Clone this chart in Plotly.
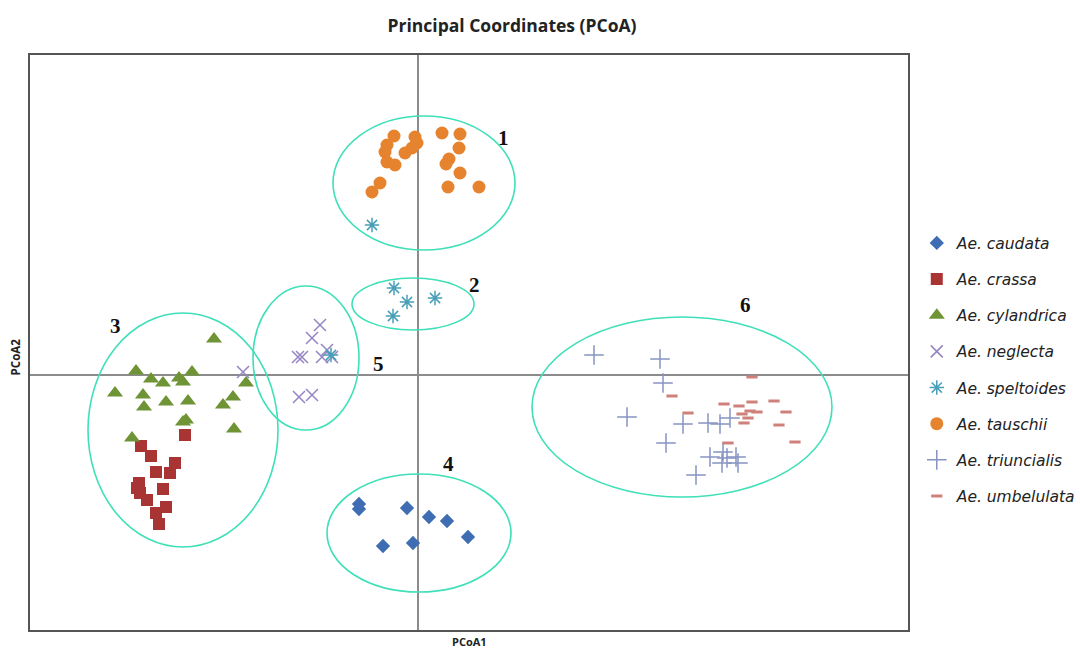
import plotly.graph_objects as go

# ---- data (PCoA1, PCoA2) ----
caudata_x = [-0.59, -0.59, -0.11, 0.11, 0.29, 0.50, -0.35, -0.05]
caudata_y = [-1.29, -1.34, -1.33, -1.42, -1.46, -1.62, -1.71, -1.68]

crassa_x = [-2.33, -2.77, -2.67, -2.62, -2.43, -2.48, -2.79, -2.78, -2.55, -2.71, -2.62, -2.52, -2.59, -2.81]
crassa_y = [-0.60, -0.71, -0.81, -0.97, -0.88, -0.98, -1.08, -1.18, -1.14, -1.25, -1.38, -1.32, -1.49, -1.13]

cylandrica_x = [-2.04, -2.82, -2.67, -2.55, -2.39, -2.35, -2.26, -1.72, -3.03, -2.75, -2.74, -2.52, -2.30, -1.85, -1.95, -2.35, -2.32, -1.84, -2.86]
cylandrica_y = [0.36, 0.04, -0.04, -0.08, -0.03, -0.07, 0.03, -0.08, -0.18, -0.20, -0.32, -0.27, -0.26, -0.22, -0.30, -0.47, -0.45, -0.54, -0.63]

neglecta_x = [-0.98, -1.06, -1.20, -1.16, -0.96, -0.91, -0.86, -1.19, -1.06, -1.75]
neglecta_y = [0.50, 0.37, 0.18, 0.18, 0.18, 0.25, 0.18, -0.22, -0.20, 0.03]

speltoides_x = [-0.46, -0.24, -0.11, -0.25, 0.17, -0.87]
speltoides_y = [1.50, 0.87, 0.73, 0.59, 0.77, 0.20]

tauschii_x = [-0.24, -0.03, -0.31, -0.33, -0.01, -0.06, -0.13, -0.31, -0.23, -0.38, -0.46, 0.24, 0.42, 0.41, 0.31, 0.28, 0.42, 0.30, 0.61]
tauschii_y = [2.39, 2.38, 2.30, 2.23, 2.32, 2.27, 2.22, 2.13, 2.10, 1.92, 1.83, 2.42, 2.41, 2.27, 2.16, 2.11, 2.02, 1.88, 1.88]

triuncialis_x = [1.76, 2.42, 2.45, 2.09, 2.65, 2.90, 3.02, 3.12, 2.48, 3.05, 2.92, 3.09, 3.18, 3.04, 3.20, 2.78]
triuncialis_y = [0.20, 0.16, -0.08, -0.42, -0.49, -0.48, -0.49, -0.43, -0.68, -0.77, -0.82, -0.83, -0.82, -0.88, -0.88, -1.00]

umbelulata_x = [3.34, 2.54, 2.70, 3.06, 3.21, 3.34, 3.56, 3.68, 3.24, 3.32, 3.39, 3.30, 3.26, 3.61, 3.10, 3.77]
umbelulata_y = [-0.02, -0.21, -0.38, -0.29, -0.31, -0.27, -0.26, -0.37, -0.39, -0.36, -0.37, -0.43, -0.48, -0.50, -0.68, -0.67]

# cluster ellipses: label, centre x, centre y, half-width, half-height, label x, label y
cluster_labels = ["1", "2", "3", "4", "5", "6"]
cluster_cx = [0.06, -0.05, -2.35, 0.01, -1.12, 2.64]
cluster_cy = [1.92, 0.71, -0.55, -1.58, 0.17, -0.32]
cluster_rx = [0.91, 0.61, 0.95, 0.92, 0.53, 1.50]
cluster_ry = [0.67, 0.26, 1.17, 0.59, 0.72, 0.90]
label_x = [0.85, 0.56, -3.03, 0.30, -0.40, 3.27]
label_y = [2.37, 0.90, 0.49, -0.89, 0.11, 0.70]

x_range = [-3.88, 4.90]
y_range = [-2.55, 3.20]

fig = go.Figure()

series = [
    ("Ae. caudata", caudata_x, caudata_y, dict(symbol="diamond", size=11, color="#3F6DB3")),
    ("Ae. crassa", crassa_x, crassa_y, dict(symbol="square", size=12, color="#A83434")),
    ("Ae. cylandrica", cylandrica_x, cylandrica_y, dict(symbol="triangle-up", size=14, color="#6F9436")),
    ("Ae. neglecta", neglecta_x, neglecta_y, dict(symbol="x-thin-open", size=12, color="#9585C4", line=dict(width=1.5, color="#9585C4"))),
    ("Ae. speltoides", speltoides_x, speltoides_y, dict(symbol="asterisk-open", size=12, color="#4A9FB8", line=dict(width=1.5, color="#4A9FB8"))),
    ("Ae. tauschii", tauschii_x, tauschii_y, dict(symbol="circle", size=13, color="#E6832F")),
    ("Ae. triuncialis", triuncialis_x, triuncialis_y, dict(symbol="cross-thin-open", size=14, color="#8794C2", line=dict(width=1.5, color="#8794C2"))),
    ("Ae. umbelulata", umbelulata_x, umbelulata_y, dict(symbol="line-ew-open", size=8, color="#D0807A", line=dict(width=3, color="#D0807A"))),
]
for i, (name, xs, ys, mk) in enumerate(series):
    fig.add_trace(go.Scatter(x=xs, y=ys, mode="markers", name=name, marker=mk,
                             legendgroup=f"g{i}"))

for lab, cx, cy, rx, ry, lx, ly in zip(cluster_labels, cluster_cx, cluster_cy, cluster_rx, cluster_ry, label_x, label_y):
    fig.add_shape(type="circle", xref="x", yref="y", x0=cx - rx, x1=cx + rx, y0=cy - ry, y1=cy + ry,
                  line=dict(color="#3FE0B8", width=1.6), layer="above")
    fig.add_annotation(x=lx, y=ly, text=f"<b>{lab}</b>", showarrow=False,
                       font=dict(family="Liberation Serif", size=21, color="#111111"))

fig.add_annotation(xref="paper", yref="paper", x=0.5, y=0, yanchor="top", yshift=-2,
                   text="<b>PCoA1</b>", showarrow=False, font=dict(family="Open Sans", size=11, color="#222"))
fig.add_annotation(xref="paper", yref="paper", x=0, y=0.475, xanchor="right", xshift=-5,
                   text="<b>PCoA2</b>", textangle=-90, showarrow=False, font=dict(family="Open Sans", size=11.5, color="#222"))

fig.update_layout(
    width=1080, height=649,
    margin=dict(l=30, r=172, t=55, b=19, autoexpand=False),
    paper_bgcolor="white", plot_bgcolor="white",
    title=dict(text="<b>Principal Coordinates (PCoA)</b>", x=0.549, xref="paper", xanchor="center",
               y=0.96, yanchor="middle", font=dict(family="Open Sans", size=17.5, color="#222")),
    xaxis=dict(range=x_range, showgrid=False, showticklabels=False, ticks="",
               zeroline=True, zerolinecolor="#8C8C8C", zerolinewidth=1.5,
               showline=True, mirror=True, linecolor="#555555", linewidth=1.5),
    yaxis=dict(range=y_range, showgrid=False, showticklabels=False, ticks="",
               zeroline=True, zerolinecolor="#8C8C8C", zerolinewidth=1.5,
               showline=True, mirror=True, linecolor="#555555", linewidth=1.5),
    legend=dict(x=1.01, y=0.702, xanchor="left", yanchor="top", tracegroupgap=13,
                font=dict(family="DejaVu Sans", size=15.5, color="#222", style="italic")),
    showlegend=True,
)

fig.write_html("out.html", config={"displayModeBar": False},
               post_script="document.body.style.margin='0';")
